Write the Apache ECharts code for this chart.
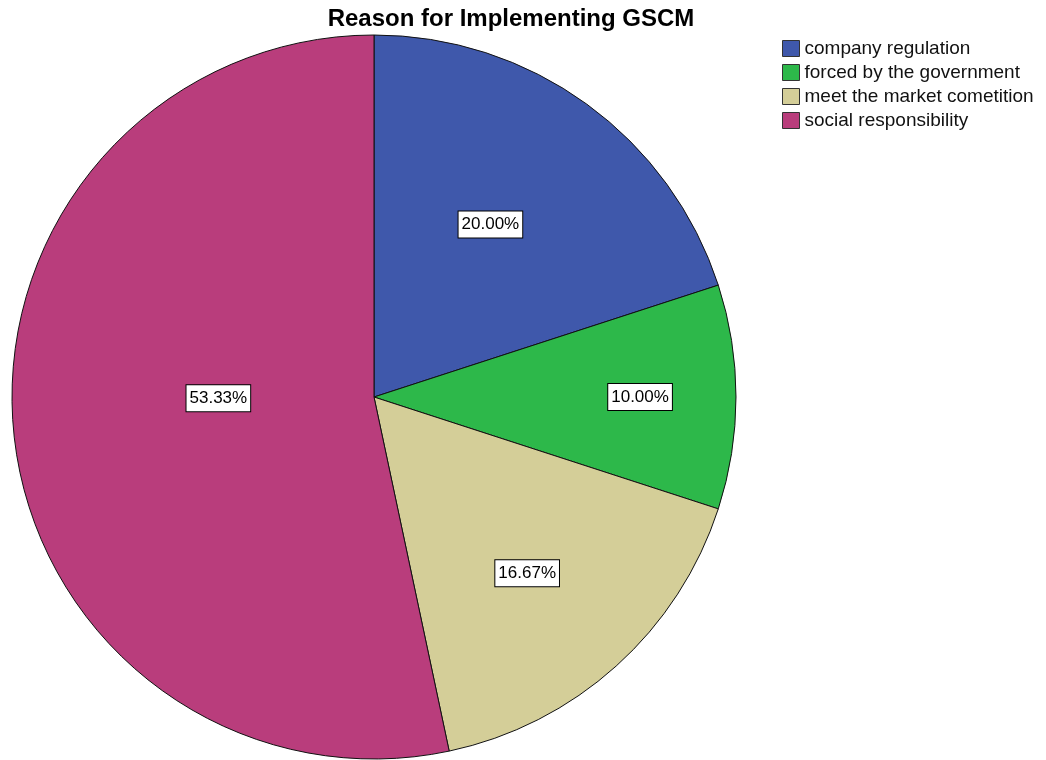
<!DOCTYPE html>
<html>
<head>
<meta charset="utf-8">
<script src="https://cdn.jsdelivr.net/npm/echarts@6/dist/echarts.min.js"></script>
<style>
  html, body { margin: 0; padding: 0; background: #ffffff; }
  #chart { width: 1046px; height: 760px; }
</style>
</head>
<body>
<div id="chart"></div>
<script>
// Reasons for implementing GSCM (percent of respondents)
const categories = ['company regulation', 'forced by the government', 'meet the market cometition', 'social responsibility'];
const percents = [20.00, 10.00, 16.67, 53.33];
const colors = ['#3F58AB', '#2DB84A', '#D4CE98', '#B93D7C'];

// how far out (share of the radius) each value label sits, and a small turn (degrees) off the slice middle
const labelRadius = [0.575, 0.735, 0.645, 0.43];
const labelTurn = [-2, 0, 1, 5.5];

const center = [374, 397];
const radius = 362;

const total = percents.reduce((a, b) => a + b, 0);
const midAngles = [];
let acc = 0;
percents.forEach(v => {
  midAngles.push((acc + v / 2) / total * Math.PI * 2);
  acc += v;
});

const chart = echarts.init(document.getElementById('chart'), null, { renderer: 'canvas' });
chart.setOption({
  backgroundColor: '#ffffff',
  animation: false,
  title: {
    text: 'Reason for Implementing GSCM',
    left: 506,
    top: 2,
    textAlign: 'center',
    textStyle: { fontFamily: 'Liberation Sans', fontWeight: 'bold', fontSize: 24, color: '#000' }
  },
  legend: {
    orient: 'vertical',
    left: 782,
    top: 39,
    padding: 0,
    icon: 'rect',
    itemWidth: 17,
    itemHeight: 16,
    itemGap: 5,
    selectedMode: false,
    data: categories,
    itemStyle: { borderColor: '#333', borderWidth: 1 },
    textStyle: { fontFamily: 'Liberation Sans', fontSize: 19, lineHeight: 19, color: '#111', padding: [0, 0, 0, 0] }
  },
  series: [{
    type: 'pie',
    center: center,
    radius: radius,
    startAngle: 90,
    clockwise: true,
    silent: true,
    data: categories.map((c, i) => ({ name: c, value: percents[i], itemStyle: { color: colors[i] } })),
    itemStyle: { borderColor: '#111', borderWidth: 1 },
    emphasis: { disabled: true },
    labelLine: { show: false },
    label: {
      show: true,
      position: 'inside',
      formatter: p => p.value.toFixed(2) + '%',
      fontFamily: 'Liberation Sans',
      fontSize: 17,
      color: '#000',
      backgroundColor: '#fff',
      borderColor: '#000',
      borderWidth: 1,
      padding: [5, 3, 4, 3]
    },
    labelLayout: function (params) {
      const i = params.dataIndex;
      const d = labelRadius[i] * radius;
      const a = midAngles[i] + labelTurn[i] * Math.PI / 180;
      return {
        x: center[0] + Math.sin(a) * d,
        y: center[1] - Math.cos(a) * d,
        align: 'center',
        verticalAlign: 'middle'
      };
    }
  }]
});
</script>
</body>
</html>
